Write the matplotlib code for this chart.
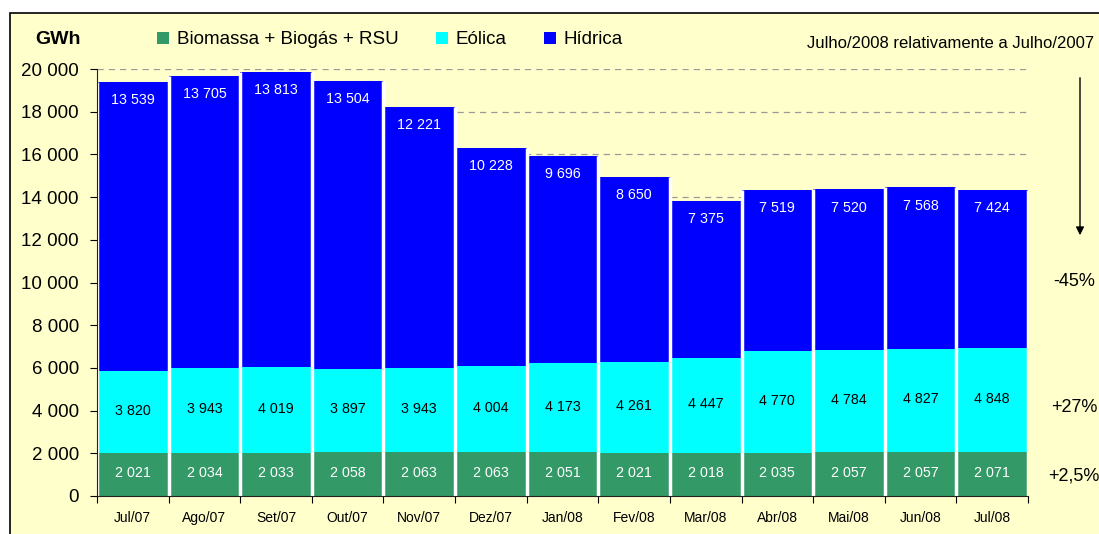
import numpy as np
import matplotlib.pyplot as plt
from matplotlib.patches import Rectangle, Patch

plt.rcParams['font.family'] = ['Liberation Sans', 'DejaVu Sans']

meses = ['Jul/07', 'Ago/07', 'Set/07', 'Out/07', 'Nov/07', 'Dez/07', 'Jan/08',
         'Fev/08', 'Mar/08', 'Abr/08', 'Mai/08', 'Jun/08', 'Jul/08']
biomassa = [2021, 2034, 2033, 2058, 2063, 2063, 2051, 2021, 2018, 2035, 2057, 2057, 2071]
eolica = [3820, 3943, 4019, 3897, 3943, 4004, 4173, 4261, 4447, 4770, 4784, 4827, 4848]
hidrica = [13539, 13705, 13813, 13504, 12221, 10228, 9696, 8650, 7375, 7519, 7520, 7568, 7424]
series = ['Biomassa + Biogás + RSU', 'Eólica', 'Hídrica']
cores = ['#339966', '#00FFFF', '#0000FF']
cores_txt = ['white', 'black', 'white']
variacao = ['+2,5%', '+27%', '-45%']

fundo = '#FFFFCC'

fig = plt.figure(figsize=(10.99, 5.34), dpi=100)
fig.patch.set_facecolor('white')

# moldura amarela num eixo de fundo
bg = fig.add_axes([0, 0, 1, 1], zorder=-1)
bg.set_xlim(0, 1099)
bg.set_ylim(534, 0)
bg.axis('off')
bg.add_patch(Rectangle((10, 13), 1200, 600, facecolor=fundo, edgecolor='black', linewidth=1.2))

ax = fig.add_axes([97 / 1099, 1 - 496 / 534, (1028 - 97) / 1099, (496 - 69) / 534])
ax.patch.set_alpha(0)

x = np.arange(len(meses))
base = np.zeros(len(meses))
for vals, cor, ctxt, nome in zip([biomassa, eolica, hidrica], cores, cores_txt, series):
    vals = np.array(vals)
    ax.bar(x, vals, bottom=base, width=1.0, color=cor, linewidth=0,
           label=nome, zorder=2)
    for xi, b, v in zip(x, base, vals):
        txt = f'{v:,}'.replace(',', ' ')
        if nome == 'Hídrica':
            ax.text(xi, b + v - 850, txt, ha='center', va='center', color=ctxt,
                    fontsize=10.3, zorder=4)
        else:
            ax.text(xi, b + v / 2 + 50, txt, ha='center', va='center', color=ctxt,
                    fontsize=10.3, zorder=4)
    base = base + vals

# separadores brancos entre as barras
total = base
alturas = [max(total[max(i - 1, 0)], total[min(i, len(total) - 1)]) for i in range(len(total) + 1)]
ax.vlines(np.arange(len(total) + 1) - 0.5, 0, alturas, colors='white', linewidth=2.5, zorder=3)

ax.set_xlim(-0.5, len(meses) - 0.5)
ax.set_ylim(0, 20000)
ax.set_yticks(np.arange(0, 20001, 2000))
ax.set_yticklabels([f'{v:,}'.replace(',', ' ') for v in range(0, 20001, 2000)], fontsize=13.5)
ax.yaxis.grid(True, linestyle=(0, (5, 4)), color='#999999', linewidth=0.9, zorder=1)
ax.set_axisbelow(True)

ax.set_xticks(np.arange(-0.5, len(meses), 1.0))
ax.set_xticklabels([])
ax.set_xticks(x, minor=True)
ax.set_xticklabels(meses, minor=True, fontsize=10)
ax.tick_params(axis='x', which='minor', length=0, pad=11)
ax.tick_params(axis='x', which='major', length=5, direction='out')
ax.tick_params(axis='y', length=5, direction='out', pad=8)

for s in ['top', 'right']:
    ax.spines[s].set_visible(False)
for s in ['left', 'bottom']:
    ax.spines[s].set_color('#222222')
    ax.spines[s].set_zorder(5)

bg.text(58, 40, 'GWh', fontsize=14, fontweight='bold', ha='center', va='center')
handles = [Patch(facecolor=c, edgecolor='none') for c in cores]
fig.legend(handles, series, loc='center left', bbox_to_anchor=(157 / 1099, 1 - 40 / 534),
           ncol=3, frameon=False, fontsize=13.5, handlelength=0.65, handleheight=0.65,
           handletextpad=0.4, columnspacing=2.0, borderpad=0, borderaxespad=0)

bg.text(1094, 43, 'Julho/2008 relativamente a Julho/2007', fontsize=12,
        ha='right', va='center')
bg.annotate('', xy=(1080, 238), xytext=(1080, 75),
            arrowprops=dict(arrowstyle='-|>', color='black', lw=1.0, mutation_scale=12))
for txt, yp in zip(variacao, [476, 407, 282]):
    bg.text(1074, yp, txt, fontsize=13, ha='center', va='center')

fig.savefig('out.png', dpi=100, facecolor=fig.get_facecolor())
